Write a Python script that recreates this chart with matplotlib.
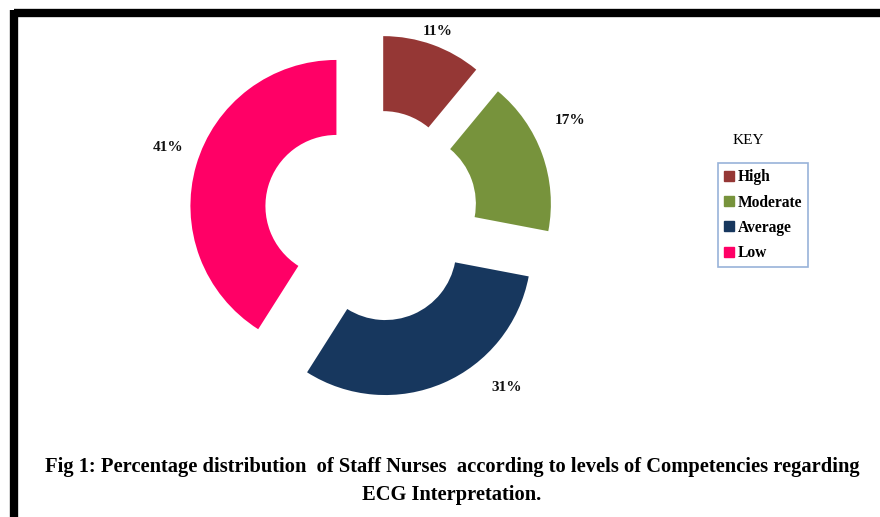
import numpy as np
import matplotlib.pyplot as plt
from matplotlib.lines import Line2D

levels = ['High', 'Moderate', 'Average', 'Low']
percents = [11, 17, 31, 41]
colors = ['#953735', '#77933C', '#17375E', '#FF0066']

plt.rcParams['font.family'] = ['Liberation Serif', 'DejaVu Serif']

fig = plt.figure(figsize=(8.8, 5.17), dpi=100)
ax = fig.add_axes([0, 0, 1, 1])

# pixel-like coordinates, y up
radius = 146
wedges, _ = ax.pie(percents, colors=colors, startangle=90, counterclock=False,
                   center=(371, 517 - 216), radius=radius,
                   explode=[36] * 4,
                   wedgeprops=dict(width=75, linewidth=0))

# percent labels placed around each wedge (Excel style best fit)
label_dist = [1.10, 1.27, 1.26, 1.22]
label_turn = [0, 7, 18, -3]
for w, p, d, turn in zip(wedges, percents, label_dist, label_turn):
    ang = np.deg2rad((w.theta1 + w.theta2) / 2 + turn)
    cx, cy = w.center
    ax.text(cx + d * radius * np.cos(ang), cy + d * radius * np.sin(ang), f'{p}%',
            fontsize=11, fontweight='bold', color='#111111', ha='center', va='center')

ax.set_xlim(0, 880)
ax.set_ylim(0, 517)
ax.set_aspect('equal')
ax.axis('off')

# frame lines at top and left
ax.plot([14, 880], [517 - 13, 517 - 13], color='black', lw=6, solid_capstyle='butt')
ax.plot([14, 14], [0, 517 - 10], color='black', lw=6, solid_capstyle='butt')

fig.text(748 / 880, 1 - 140 / 517, 'KEY', fontsize=11, ha='center', va='center')

handles = [Line2D([], [], marker='s', linestyle='none', markersize=7,
                  markerfacecolor=c, markeredgecolor=c) for c in colors]
leg = fig.legend(handles, levels, loc='upper left',
                 bbox_to_anchor=(718 / 880, 1 - 163 / 517),
                 prop=dict(size=11.2, weight='bold'), frameon=True, fancybox=False,
                 handlelength=0.6, handletextpad=0.25, labelspacing=0.6,
                 borderpad=0.4, borderaxespad=0)
leg.get_frame().set_edgecolor('#7F9FCF')
leg.get_frame().set_linewidth(1.2)

fig.text(452 / 880, 1 - 467 / 517,
         'Fig 1: Percentage distribution  of Staff Nurses  according to levels of Competencies regarding',
         fontsize=14.8, fontweight='bold', ha='center', va='center')
fig.text(452 / 880, 1 - 495 / 517, 'ECG Interpretation.',
         fontsize=14.8, fontweight='bold', ha='center', va='center')

fig.savefig('out.png', dpi=100, facecolor='white')
